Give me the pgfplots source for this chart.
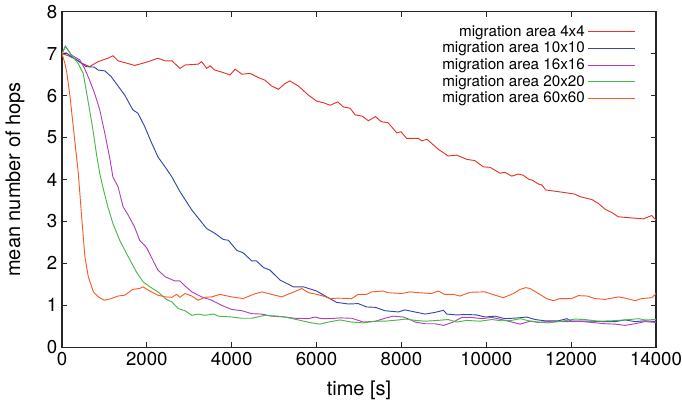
\documentclass[border=0pt]{standalone}
\usepackage{fontspec}
\setmainfont{TeX Gyre Heros}
\usepackage{pgfplots}
\pgfplotsset{compat=1.18}
\definecolor{cfour}{RGB}{232,52,40}
\definecolor{cten}{RGB}{52,72,172}
\definecolor{csixteen}{RGB}{178,64,186}
\definecolor{ctwenty}{RGB}{72,184,72}
\definecolor{csixty}{RGB}{250,90,40}
\begin{document}
\begin{tikzpicture}
\begin{axis}[
  scale only axis,
  width=445.5pt, height=251.6pt,
  xmin=0, xmax=14000, ymin=0, ymax=8,
  xtick={0,2000,...,14000}, ytick={0,1,...,8},
  scaled x ticks=false,
  /pgf/number format/1000 sep={},
  /pgf/number format/assume math mode=true,
  tick align=inside, tick pos=both,
  major tick length=4pt,
  axis line style={line width=0.9pt, draw=black!85},
  every tick/.style={line width=0.7pt, black!85},
  tick label style={font=\fontsize{14}{16}\selectfont},
  label style={font=\fontsize{15}{18}\selectfont},
  xlabel={time [s]}, ylabel={mean number of hops},
  xlabel style={at={(axis description cs:0.5,-0.128)}, anchor=center},
  ylabel style={at={(axis description cs:-0.079,0.5)}, anchor=center},
  legend plot pos=right,
  legend cell align=right,
  legend image code/.code={\draw[#1] (0pt,0pt) -- (35pt,0pt);},
  legend style={draw=none, fill=none, font=\fontsize{11.4}{13}\selectfont,
    at={(rel axis cs:1,1)}, anchor=north east, xshift=-12.5pt, yshift=-6pt,
    row sep=-1.1pt},
  every axis plot/.append style={line width=0.7pt},
]
\addplot[cfour] coordinates {
(0,7.00) (150,6.95) (300,6.88) (450,6.78) (650,6.69) (850,6.81) (1080,6.89) (1200,6.95) (1320,6.83) (1500,6.78) (1710,6.72) (1900,6.77) (2030,6.81) (2260,6.89) (2430,6.83) (2590,6.83) (2780,6.65) (2900,6.73) (3060,6.74) (3210,6.75) (3290,6.81) (3410,6.65) (3490,6.71) (3600,6.61) (3800,6.55) (3960,6.49) (4080,6.63) (4240,6.51) (4430,6.53) (4630,6.43) (4780,6.37) (4940,6.23) (5100,6.15) (5260,6.29) (5370,6.35) (5570,6.23) (5810,6.01) (6000,5.87) (6160,5.83) (6320,5.77) (6500,5.85) (6630,5.73) (6790,5.70) (6910,5.54) (7080,5.51) (7220,5.40) (7390,5.50) (7520,5.38) (7690,5.35) (7890,5.11) (7990,5.14) (8120,4.98) (8400,4.98) (8480,4.92) (8600,4.96) (8870,4.72) (9100,4.56) (9300,4.58) (9540,4.48) (9730,4.45) (9930,4.30) (10090,4.29) (10320,4.15) (10440,4.17) (10600,4.08) (10760,4.13) (10870,4.10) (11010,4.00) (11070,3.99) (11230,3.89) (11310,3.87) (11400,3.75) (11620,3.72) (11900,3.68) (12090,3.65) (12210,3.59) (12490,3.52) (12640,3.43) (12800,3.29) (12960,3.21) (13110,3.11) (13350,3.09) (13700,3.06) (13900,3.14) (14000,3.03)
};
\addlegendentry{migration area 4x4}
\addplot[cten] coordinates {
(0,7.00) (100,7.02) (220,6.93) (380,6.83) (570,6.69) (760,6.68) (850,6.61) (1010,6.59) (1160,6.45) (1320,6.23) (1480,6.01) (1670,5.66) (1790,5.58) (1950,5.26) (2100,4.90) (2260,4.54) (2430,4.30) (2590,4.06) (2780,3.71) (3060,3.27) (3250,3.03) (3410,2.83) (3610,2.71) (3800,2.57) (3920,2.55) (4120,2.31) (4270,2.25) (4470,2.06) (4580,2.06) (4750,1.90) (4900,1.84) (5140,1.60) (5300,1.52) (5450,1.44) (5690,1.44) (6000,1.34) (6240,1.20) (6470,1.07) (6750,1.03) (6980,1.04) (7180,0.96) (7390,0.95) (7610,0.87) (7930,0.84) (8080,0.89) (8320,0.84) (8560,0.79) (8790,0.83) (8990,0.88) (9070,0.79) (9300,0.77) (9540,0.78) (9770,0.77) (9970,0.72) (10210,0.74) (10440,0.68) (10760,0.70) (10950,0.72) (11150,0.66) (11380,0.63) (11700,0.63) (11900,0.68) (12010,0.62) (12490,0.62) (12800,0.61) (13040,0.61) (13270,0.65) (13510,0.61) (13740,0.63) (14000,0.61)
};
\addlegendentry{migration area 10x10}
\addplot[csixteen] coordinates {
(0,7.00) (80,7.18) (220,6.97) (420,6.85) (530,6.65) (650,6.37) (770,6.05) (890,5.66) (1010,5.10) (1120,4.54) (1200,4.06) (1320,3.83) (1440,3.35) (1560,3.15) (1710,2.87) (1830,2.55) (1990,2.38) (2140,2.08) (2260,1.84) (2430,1.68) (2660,1.58) (2780,1.58) (2900,1.46) (3060,1.32) (3290,1.20) (3530,1.12) (3760,1.00) (4000,0.90) (4240,0.87) (4470,0.80) (4710,0.79) (4940,0.74) (5260,0.72) (5490,0.69) (5810,0.68) (5960,0.72) (6120,0.68) (6320,0.68) (6550,0.70) (6830,0.69) (7100,0.60) (7390,0.62) (7610,0.69) (7810,0.74) (8040,0.72) (8200,0.66) (8320,0.60) (8560,0.56) (8790,0.56) (8990,0.52) (9220,0.60) (9420,0.71) (9650,0.71) (9890,0.68) (10130,0.71) (10360,0.66) (10600,0.60) (10800,0.55) (11030,0.62) (11230,0.59) (11540,0.62) (11860,0.61) (12170,0.62) (12490,0.59) (12800,0.56) (13040,0.55) (13270,0.52) (13510,0.56) (13740,0.61) (14000,0.59)
};
\addlegendentry{migration area 16x16}
\addplot[ctwenty] coordinates {
(0,7.00) (80,7.17) (220,6.97) (380,6.77) (500,6.53) (570,6.13) (650,5.66) (730,5.18) (810,4.62) (890,4.14) (970,3.79) (1080,3.35) (1200,2.95) (1360,2.55) (1560,2.16) (1750,1.80) (1910,1.56) (2070,1.44) (2260,1.32) (2460,1.14) (2590,1.08) (2740,0.92) (2900,0.87) (3060,0.76) (3210,0.79) (3370,0.76) (3570,0.79) (3690,0.74) (4000,0.72) (4240,0.69) (4470,0.69) (4780,0.76) (5100,0.74) (5300,0.71) (5570,0.65) (5880,0.58) (6080,0.55) (6280,0.60) (6550,0.65) (6830,0.60) (7100,0.58) (7390,0.62) (7610,0.62) (7930,0.65) (8100,0.67) (8320,0.64) (8560,0.62) (8870,0.64) (9100,0.66) (9300,0.60) (9540,0.64) (9850,0.62) (10130,0.66) (10360,0.63) (10600,0.64) (10800,0.68) (11000,0.63) (11230,0.60) (11460,0.58) (11780,0.62) (12090,0.67) (12330,0.66) (12640,0.62) (12960,0.63) (13270,0.65) (13590,0.68) (13740,0.65) (14000,0.66)
};
\addlegendentry{migration area 20x20}
\addplot[csixty] coordinates {
(0,7.00) (60,6.80) (110,6.57) (190,5.97) (300,4.94) (385,4.14) (460,3.15) (540,2.16) (620,1.68) (740,1.32) (855,1.20) (1000,1.12) (1160,1.16) (1320,1.22) (1480,1.24) (1670,1.38) (1830,1.40) (1910,1.44) (2070,1.34) (2260,1.24) (2430,1.20) (2590,1.19) (2700,1.26) (2780,1.19) (2900,1.28) (3060,1.22) (3210,1.12) (3370,1.19) (3530,1.20) (3720,1.26) (4000,1.20) (4270,1.16) (4510,1.26) (4710,1.32) (4940,1.26) (5180,1.20) (5370,1.28) (5450,1.31) (5650,1.40) (5810,1.30) (5960,1.27) (6160,1.22) (6320,1.16) (6500,1.17) (6830,1.16) (6980,1.26) (7180,1.26) (7300,1.32) (7570,1.34) (7690,1.30) (8010,1.28) (8200,1.32) (8400,1.30) (8710,1.28) (8870,1.34) (9010,1.26) (9220,1.26) (9380,1.22) (9620,1.31) (9970,1.32) (10210,1.24) (10400,1.18) (10640,1.28) (10800,1.38) (10930,1.42) (11030,1.40) (11230,1.28) (11420,1.16) (11580,1.11) (11740,1.16) (12010,1.16) (12170,1.23) (12380,1.22) (12560,1.16) (12800,1.14) (12960,1.17) (13110,1.20) (13270,1.17) (13510,1.11) (13660,1.16) (13900,1.18) (14000,1.28)
};
\addlegendentry{migration area 60x60}
\coordinate (SW) at (rel axis cs:0,0);
\coordinate (NE) at (rel axis cs:1,1);
\end{axis}
\pgfresetboundingbox
\path[use as bounding box] ([shift={(-46.5pt,-45.75pt)}]SW) rectangle ([shift={(19.5pt,8.8pt)}]NE);
\end{tikzpicture}
\end{document}
